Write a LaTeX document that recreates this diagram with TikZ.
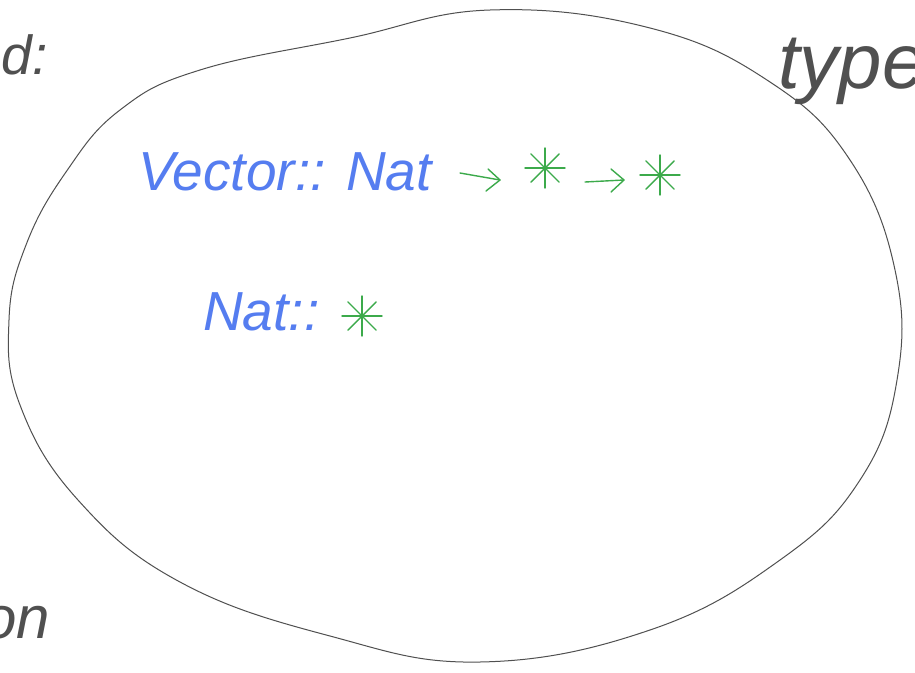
\documentclass[tikz,border=0pt]{standalone}
\usepackage{fontspec}
\setmainfont{Liberation Sans}
\definecolor{inkblue}{RGB}{85,125,240}
\definecolor{inkgreen}{RGB}{60,170,75}
\definecolor{inkgray}{RGB}{80,80,80}
\tikzset{
  blob/.style={draw=inkgray, line width=1pt},
  bluetext/.style={text=inkblue, font=\itshape\fontsize{55}{55}\selectfont, inner sep=0pt},
  graytext/.style={text=inkgray, font=\itshape\fontsize{#1}{#1}\selectfont, inner sep=0pt},
  greenline/.style={draw=inkgreen, line width=1.4pt, line cap=round, line join=round},
  pics/asterisk/.style={code={
    \foreach \a in {0,45,90,135}
      \draw[greenline] (\a:20) -- (\a+180:20);
  }}
}
\begin{document}
\begin{tikzpicture}[x=1pt,y=-1pt]
\useasboundingbox (0,0) rectangle (915,672);
\clip (0,0) rectangle (915,672);
\fill[white] (0,0) rectangle (915,672);
% outer blob
\draw[blob] plot[smooth cycle, tension=0.7] coordinates {
  (9,320) (26,245) (66,172) (120,110) (200,70) (350,38) (490,10)
  (650,28) (770,82) (850,160) (895,270) (897,380) (860,480) (780,560)
  (650,630) (480,662) (330,636) (180,582) (78,500) (20,405)};
% margin labels
\node[graytext=55, anchor=base east] (kind) at (48,74) {d:};
\node[graytext=78, anchor=base west] (type) at (778,88) {type};
\node[graytext=60, anchor=base east] (on) at (50,638) {on};
% type signatures
\node[bluetext, anchor=base west] (vec) at (138,190) {Vector:: Nat};
\coordinate (s1) at (545,168);
\coordinate (s2) at (660,175);
\pic at (s1) {asterisk};
\pic at (s2) {asterisk};
\coordinate (a1s) at (460,173);
\coordinate (a1e) at (500,180);
\coordinate (a2s) at (585,182);
\coordinate (a2e) at (624,180);
\draw[greenline] (a1s) -- (a1e);
\draw[greenline] ([shift={(-12,-11)}]a1e) -- (a1e) -- ([shift={(-14,11)}]a1e);
\draw[greenline] (a2s) -- (a2e);
\draw[greenline] ([shift={(-13,-11)}]a2e) -- (a2e) -- ([shift={(-13,12)}]a2e);
\node[bluetext, anchor=base west] (nat) at (203,330) {Nat::};
\coordinate (s3) at (362,316);
\pic at (s3) {asterisk};
\end{tikzpicture}
\end{document}
